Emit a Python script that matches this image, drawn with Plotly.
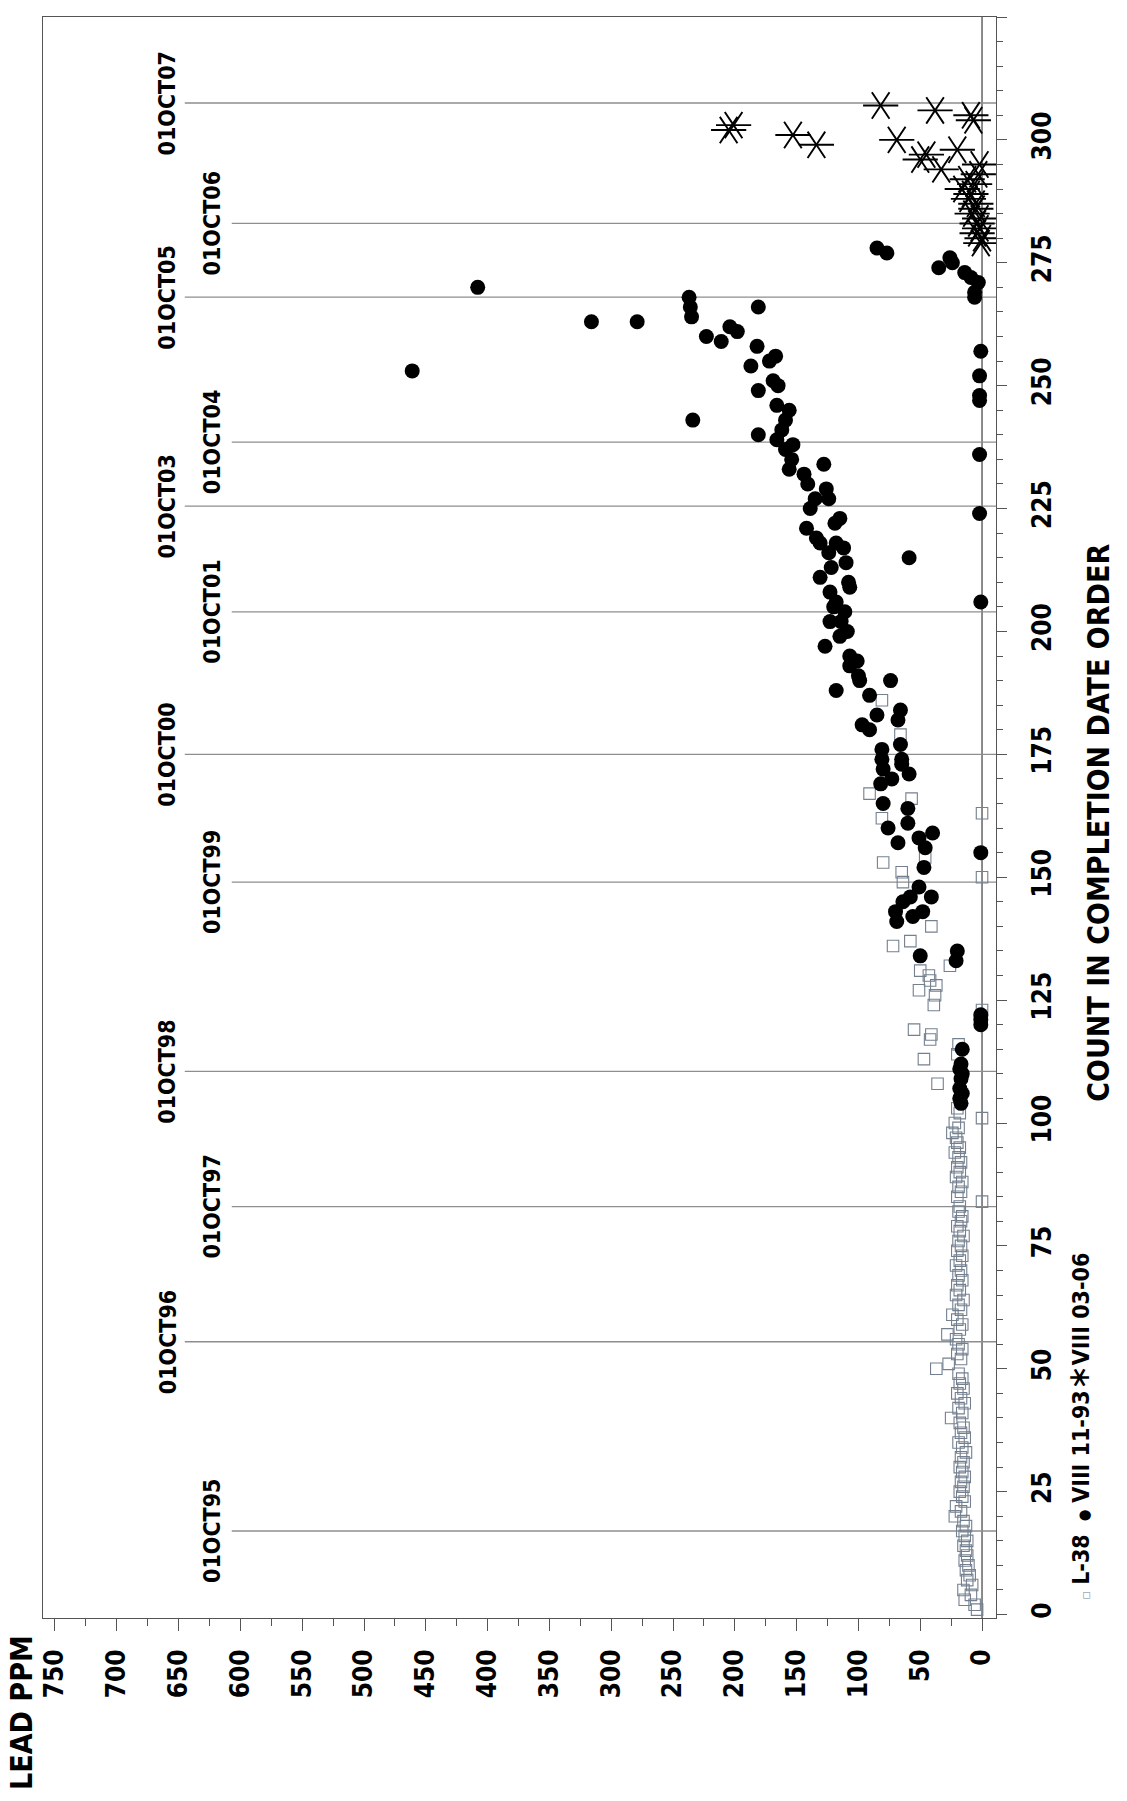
import plotly.graph_objects as go

# ---- L-38 results (open squares) ----
l38_count = list(range(1, 104)) + [
    108, 113, 114, 116, 117, 118, 119, 123, 124, 126, 127, 128, 129, 130, 131, 132,
    136, 137, 140, 149, 150, 151, 153, 154, 162, 163, 166, 167, 179, 186]
l38_lead = [
    4, 6, 14, 9, 15, 8, 12, 10, 13, 11, 14, 12, 13, 15, 12, 14, 16, 13, 15, 22,
    17, 21, 14, 16, 18, 15, 17, 14, 16, 18, 15, 17, 13, 16, 19, 14, 17, 15, 18, 25,
    16, 19, 14, 17, 20, 15, 18, 16, 19, 37, 27, 17, 20, 16, 19, 21, 28, 18, 16, 20,
    24, 17, 19, 15, 21, 18, 20, 16, 19, 17, 21, 18, 16, 20, 17, 19, 15, 18, 20, 17,
    16, 19, 18, 0, 20, 17, 19, 16, 21, 18, 20, 17, 19, 22, 18, 20, 21, 24, 19, 22,
    0, 18, 20,
    36, 47, 20, 19, 42, 41, 55, 0, 39, 38, 51, 37, 42, 43, 50, 26,
    72, 58, 41, 64, 0, 65, 80, 46, 81, 0, 57, 91, 66, 81]

# ---- VIII 11-93 results (filled circles) ----
v1193_count = [
    104, 105, 106, 107, 109, 110, 111, 112, 115, 120, 121, 122, 133, 134, 135,
    141, 142, 143, 143, 145, 146, 146, 148, 152, 155, 156, 157, 158, 159, 160, 161,
    164, 165, 169, 170, 171, 172, 173, 174, 174, 176, 177, 180, 181, 182, 183, 184,
    187, 188, 190, 190, 191, 193, 194, 195, 197, 199, 200, 202, 202, 204, 205, 206,
    206, 208, 209, 210, 211, 213, 214, 215, 216, 217, 218, 218, 219, 221, 222, 223,
    224, 225, 227, 227, 229, 230, 232, 233, 234, 235, 236, 237, 238, 239, 240, 241,
    243, 243, 245, 246, 247, 248, 249, 250, 251, 252, 253, 254, 255, 256, 257, 258,
    259, 260, 261, 262, 263, 263, 264, 266, 266, 268, 268, 269, 270, 271, 272, 273,
    274, 275, 276, 277, 278]
v1193_lead = [
    17, 18, 16, 18, 17, 16, 18, 17, 16, 1, 1, 1, 21, 50, 20,
    69, 56, 70, 48, 64, 41, 58, 51, 47, 1, 46, 68, 51, 40, 76, 60,
    60, 80, 82, 73, 59, 80, 65, 81, 65, 81, 66, 91, 97, 68, 85, 66,
    91, 118, 99, 74, 100, 107, 101, 107, 127, 115, 109, 114, 123, 111, 120, 1,
    118, 123, 107, 108, 131, 122, 110, 59, 124, 112, 131, 118, 134, 142, 119, 115,
    2, 139, 135, 124, 126, 141, 144, 156, 128, 154, 2, 159, 153, 166, 181, 162,
    159, 234, 156, 166, 2, 2, 181, 165, 169, 2, 461, 187, 172, 167, 1, 182,
    211, 223, 198, 204, 316, 279, 235, 236, 181, 237, 6, 6, 408, 3, 9, 14,
    35, 24, 26, 77, 85]

# ---- VIII 03-06 results (asterisks) ----
v0306_count = list(range(279, 308))
v0306_lead = [
    1, 0, 4, 2, 4, 2, 8, 5, 5, 11, 9, 16, 6, 12, 3, 33, 2, 50, 45, 20,
    134, 69, 153, 205, 201, 7, 9, 38, 82]

# ---- October 1st reference lines ----
date_labels = ["01OCT95", "01OCT96", "01OCT97", "01OCT98", "01OCT99", "01OCT00",
               "01OCT01", "01OCT03", "01OCT04", "01OCT05", "01OCT06", "01OCT07"]
date_counts = [17, 55.5, 83, 110.5, 149, 175, 204, 225.5, 238.5, 268, 283, 307.5]

LEAD_RANGE = [759.7, -11.3]
COUNT_RANGE = [-0.7, 325]

FONT = "Liberation Sans Narrow, Arial Narrow, DejaVu Sans Condensed, Liberation Sans, Arial, sans-serif"
INK = "black"
FRAME = "#555555"

fig = go.Figure()

fig.add_trace(go.Scatter(
    x=l38_lead, y=l38_count, mode="markers", name="L-38",
    marker=dict(symbol="square-open", size=11.5, color="#74808f", line=dict(width=1.1)),
))
fig.add_trace(go.Scatter(
    x=v1193_lead, y=v1193_count, mode="markers", name="VIII 11-93",
    marker=dict(symbol="circle", size=15, color="black", line=dict(width=0)),
))
# six-spoke asterisk built from two mirrored "Y" glyphs
for sym in ("y-left", "y-right"):
    fig.add_trace(go.Scatter(
        x=v0306_lead, y=v0306_count, mode="markers", name="VIII 03-06",
        marker=dict(symbol=sym, size=22, color="black",
                    line=dict(width=1.9, color="black")),
    ))

# vertical reference at zero lead
fig.add_shape(type="line", xref="x", yref="paper", x0=0, x1=0, y0=0, y1=1,
              line=dict(color="#6f6f6f", width=1.6), layer="below")

# date reference lines with their labels, staggered on two columns
for i, (lab, c) in enumerate(zip(date_labels, date_counts)):
    far = (i % 2 == 1)
    line_start = 645 if far else 607
    label_x = 659 if far else 623
    fig.add_shape(type="line", xref="x", yref="y", x0=line_start, x1=LEAD_RANGE[1],
                  y0=c, y1=c, line=dict(color="#8e8e8e", width=1.3), layer="below")
    fig.add_annotation(x=label_x, y=c, xref="x", yref="y", text="<b>%s</b>" % lab,
                       textangle=-90, showarrow=False, xanchor="center", yanchor="middle",
                       font=dict(family=FONT, size=23, color=INK))

# axis titles
fig.add_annotation(xref="paper", yref="paper", x=-0.022, y=-0.0593,
                   text="<b>LEAD PPM</b>", textangle=-90, showarrow=False,
                   xanchor="center", yanchor="middle",
                   font=dict(family=FONT, size=30, color=INK))
fig.add_annotation(xref="paper", yref="paper", x=1.108, y=0.4966,
                   text="<b>COUNT IN COMPLETION DATE ORDER</b>", textangle=-90,
                   showarrow=False, xanchor="center", yanchor="middle",
                   font=dict(family=FONT, size=30, color=INK))

# legend line
legend_text = ("<span style='font-size:9px;color:#74808f'>\u25a1</span> <b>L-38</b>  "
               "<span style='font-size:15px'>\u25cf</span> <b>VIII 11-93</b>"
               "<span style='font-size:30px;font-family:DejaVu Sans'>\u2217</span><b>VIII 03-06</b>")
fig.add_annotation(xref="paper", yref="paper", x=1.0861, y=0.1199,
                   text=legend_text, textangle=-90, showarrow=False,
                   xanchor="center", yanchor="middle",
                   font=dict(family=FONT, size=23, color=INK))

fig.update_layout(
    width=1127, height=1801,
    margin=dict(l=43, r=131, t=17, b=183),
    plot_bgcolor="white", paper_bgcolor="white",
    showlegend=False,
    xaxis=dict(
        range=LEAD_RANGE, tick0=0, dtick=50, tickangle=-90,
        ticks="outside", ticklen=12, tickwidth=1, tickcolor=FRAME,
        minor=dict(dtick=25, tick0=0, ticks="outside", ticklen=7, tickcolor=FRAME),
        showline=True, linecolor=FRAME, linewidth=1.2, mirror=True,
        showgrid=False, zeroline=False, automargin=False,
        ticklabelstandoff=8,
        tickfont=dict(family=FONT, size=26, color=INK, weight="bold"),
    ),
    yaxis=dict(
        side="right", range=COUNT_RANGE, tick0=0, dtick=25, tickangle=-90,
        ticks="outside", ticklen=10, tickwidth=1, tickcolor=FRAME,
        minor=dict(dtick=5, tick0=0, ticks="outside", ticklen=6, tickcolor=FRAME),
        showline=True, linecolor=FRAME, linewidth=1.2, mirror=True,
        showgrid=False, zeroline=False, automargin=False,
        ticklabelstandoff=13,
        tickfont=dict(family=FONT, size=26, color=INK, weight="bold"),
    ),
)

fig.write_html("out.html")
